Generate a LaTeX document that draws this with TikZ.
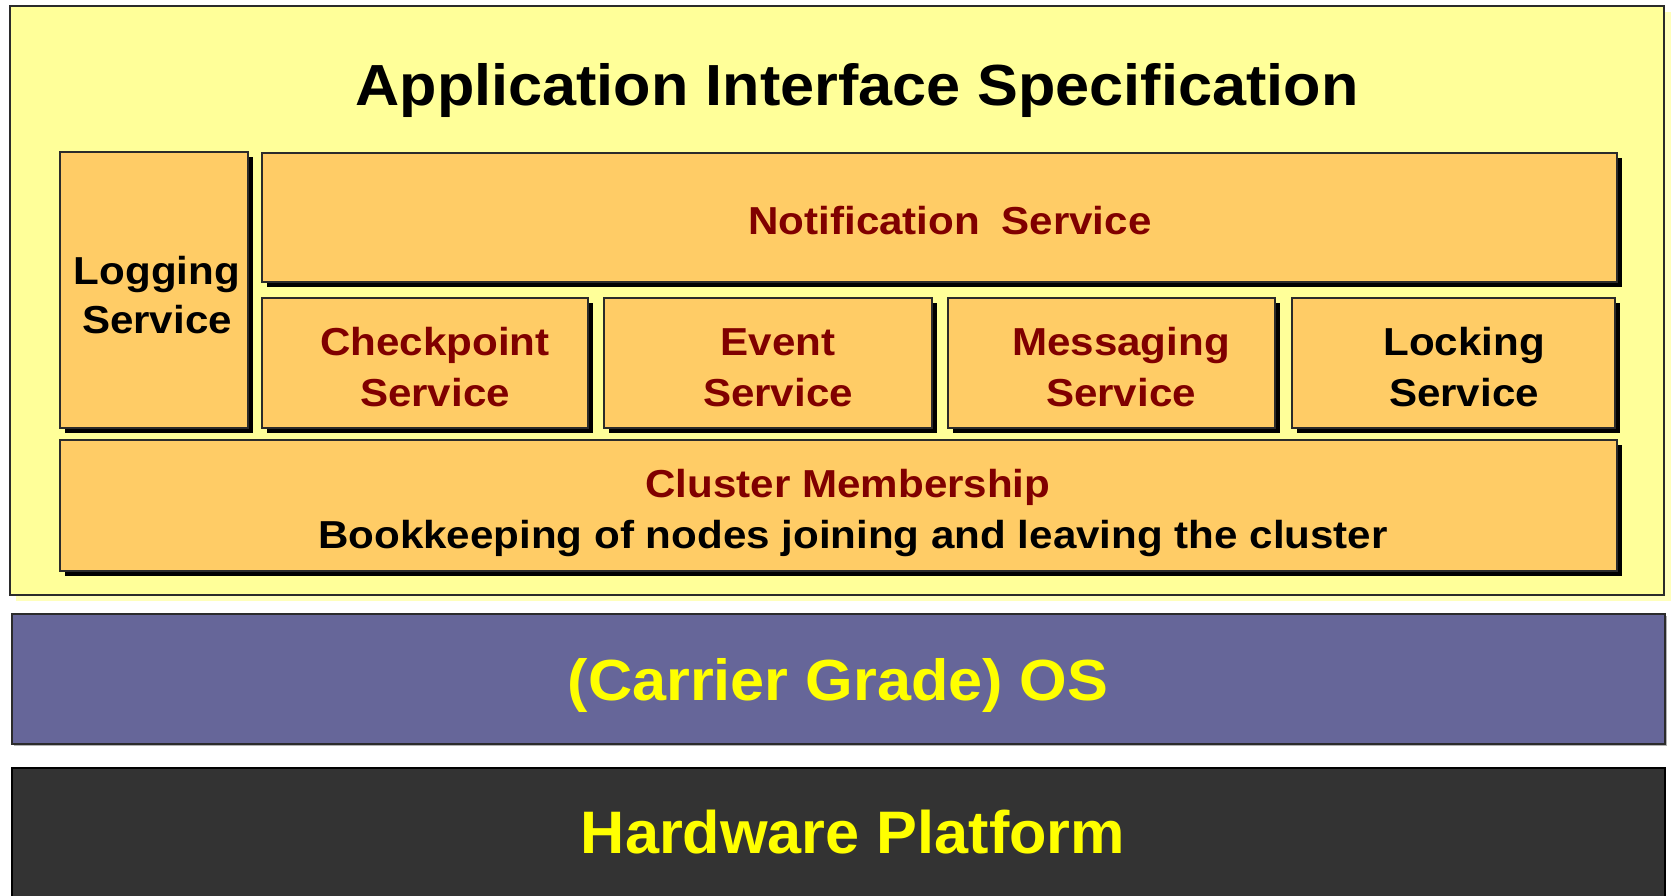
\documentclass[tikz,border=0pt]{standalone}
\usepackage{fontspec}
\setmainfont{Liberation Sans}
\newfontfamily\svcfont{Liberation Sans}[FakeStretch=1.08]
\newfontfamily\bigfont{Liberation Sans}[FakeStretch=1.055]
\newfontfamily\hwfont{Liberation Sans}[FakeStretch=1.02]
\usetikzlibrary{shadows}
\definecolor{aisyellow}{HTML}{FFFF99}
\definecolor{aisglow}{HTML}{FFFFBB}
\definecolor{svcorange}{HTML}{FFCC66}
\definecolor{svcred}{HTML}{800000}
\definecolor{osblue}{HTML}{666699}
\definecolor{hwgray}{HTML}{333333}
\definecolor{edgegray}{HTML}{2B2B2B}
\definecolor{txtyellow}{HTML}{FFFF00}
\begin{document}
\begin{tikzpicture}[x=1pt,y=-1pt,
  layer/.style={draw=edgegray, line width=1.6pt, anchor=north west, inner sep=0pt, outer sep=0pt},
  svcbox/.style={layer, fill=svcorange, drop shadow={shadow xshift=5pt, shadow yshift=-5pt, fill=black, opacity=1}},
  lbl/.style={anchor=base, inner sep=0pt, font=\svcfont\fontsize{39}{47}\selectfont\bfseries},
  redlbl/.style={lbl, text=svcred},
  biglbl/.style={anchor=base, inner sep=0pt, font=\bigfont\fontsize{58}{66}\selectfont\bfseries}
]
\useasboundingbox (0,0) rectangle (1671,895);
\fill[white] (0,0) rectangle (1671,895);

% application interface specification layer
\fill[aisglow] (16,12) rectangle (1671,601);
\node[layer, fill=aisyellow, line width=2pt, minimum width=1654pt, minimum height=589pt] (ais) at (10,6) {};
\node[biglbl] (aistitle) at (857,105) {Application Interface Specification};

% service boxes
\node[svcbox, minimum width=188pt, minimum height=276pt] (logging) at (60,152) {};
\node[svcbox, minimum width=1355pt, minimum height=129pt] (notif) at (262,153) {};
\node[svcbox, minimum width=326pt, minimum height=130pt] (ckpt) at (262,298) {};
\node[svcbox, minimum width=328pt, minimum height=130pt] (event) at (604,298) {};
\node[svcbox, minimum width=327pt, minimum height=130pt] (msg) at (948,298) {};
\node[svcbox, minimum width=323pt, minimum height=130pt] (lock) at (1292,298) {};
\node[svcbox, minimum width=1557pt, minimum height=131pt] (clm) at (60,440) {};

\node[lbl] (loggingA) at (157,284) {Logging};
\node[lbl] (loggingB) at (157,333) {Service};
\node[redlbl] (notifA) at (950,234) {Notification\hspace{0.55em}Service};
\node[redlbl] (ckptA) at (435,355) {Checkpoint};
\node[redlbl] (ckptB) at (435,406) {Service};
\node[redlbl] (eventA) at (778,355) {Event};
\node[redlbl] (eventB) at (778,406) {Service};
\node[redlbl] (msgA) at (1121,355) {Messaging};
\node[redlbl] (msgB) at (1121,406) {Service};
\node[lbl] (lockA) at (1464,355) {Locking};
\node[lbl] (lockB) at (1464,406) {Service};
\node[redlbl] (clmA) at (848,497) {Cluster Membership};
\node[lbl] (clmB) at (853,548) {Bookkeeping of nodes joining and leaving the cluster};

% OS layer
\node[layer, fill=osblue, minimum width=1653pt, minimum height=130pt,
      drop shadow={shadow xshift=1.5pt, shadow yshift=-1.5pt, fill=gray!60, opacity=1}] (os) at (12,614) {};
\node[biglbl, text=txtyellow] (osA) at (838,700) {(Carrier Grade) OS};

% hardware layer
\node[layer, fill=hwgray, draw=black, minimum width=1653pt, minimum height=140pt] (hw) at (12,768) {};
\node[biglbl, text=txtyellow, font=\hwfont\fontsize{60}{68}\selectfont\bfseries] (hwA) at (853,853) {Hardware Platform};
\end{tikzpicture}
\end{document}
